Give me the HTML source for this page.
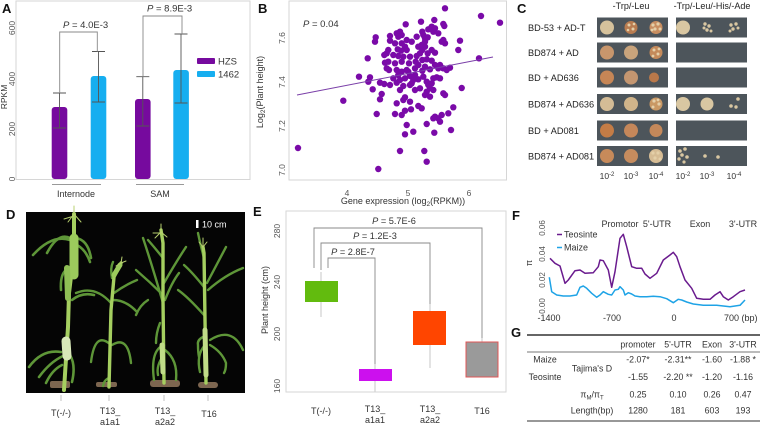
<!DOCTYPE html>
<html><head><meta charset="utf-8"><style>
html,body{margin:0;padding:0;background:#fff;}
svg{display:block;}
text{font-family:"Liberation Sans",Arial,sans-serif;}
</style></head><body>
<svg width="765" height="428" viewBox="0 0 765 428" xmlns="http://www.w3.org/2000/svg">
<rect width="765" height="428" fill="#fff"/>

<!-- ================= PANEL A ================= -->
<text x="2" y="13" font-size="13" font-weight="bold" fill="#111">A</text>
<rect x="16" y="1" width="234" height="178.5" fill="none" stroke="#d6d6d6" stroke-width="1"/>
<g font-size="8.5" fill="#555" text-anchor="middle">
<text transform="translate(15,179) rotate(-90)">0</text>
<text transform="translate(15,129) rotate(-90)">200</text>
<text transform="translate(15,79) rotate(-90)">400</text>
<text transform="translate(15,28) rotate(-90)">600</text>
<text transform="translate(7,97) rotate(-90)" fill="#333">RPKM</text>
</g>
<rect x="51.7" y="107" width="15.6" height="72" rx="3" fill="#760a9e"/>
<rect x="90.7" y="76" width="15.6" height="103" rx="3" fill="#16aef0"/>
<rect x="135" y="99" width="15.6" height="80" rx="3" fill="#760a9e"/>
<rect x="173.3" y="70" width="15.6" height="109" rx="3" fill="#16aef0"/>
<g stroke="#555" stroke-width="0.9" fill="none">
<path d="M59.5,93 V128 M53,93 H66 M53,128 H66"/>
<path d="M98.5,51.5 V102 M92,51.5 H105 M92,102 H105"/>
<path d="M142.8,76.7 V126 M136.3,76.7 H149.3 M136.3,126 H149.3"/>
<path d="M181,34 V103 M174.5,34 H187.5 M174.5,103 H187.5"/>
</g>
<g stroke="#888" stroke-width="0.9" fill="none">
<path d="M59.7,93 V32 H97.3 V51.5"/>
<path d="M143,76.7 V16 H182 V34"/>
</g>
<text x="63" y="28" font-size="9.5" fill="#333"><tspan font-style="italic">P</tspan> = 4.0E-3</text>
<text x="147" y="11.5" font-size="9.5" fill="#333"><tspan font-style="italic">P</tspan> = 8.9E-3</text>
<rect x="197" y="58" width="18" height="6" rx="1" fill="#760a9e"/>
<text x="218" y="64.5" font-size="9.5" fill="#333">HZS</text>
<rect x="197" y="71" width="18" height="6" rx="1" fill="#16aef0"/>
<text x="218" y="77.5" font-size="9.5" fill="#333">1462</text>
<g stroke="#999" stroke-width="0.9"><path d="M52,184.5 H101 M136,184.5 H184"/></g>
<text x="76" y="197" font-size="9" fill="#333" text-anchor="middle">Internode</text>
<text x="160" y="197" font-size="9" fill="#333" text-anchor="middle">SAM</text>

<!-- ================= PANEL B ================= -->
<text x="258" y="13" font-size="13" font-weight="bold" fill="#111">B</text>
<rect x="289" y="1" width="217.5" height="179" fill="none" stroke="#d6d6d6" stroke-width="1"/>
<g font-size="8.5" fill="#555" text-anchor="middle">
<text transform="translate(285,170) rotate(-90)">7.0</text>
<text transform="translate(285,126) rotate(-90)">7.2</text>
<text transform="translate(285,82) rotate(-90)">7.4</text>
<text transform="translate(285,38) rotate(-90)">7.6</text>
<text x="347" y="196">4</text>
<text x="408" y="196">5</text>
<text x="469" y="196">6</text>
</g>
<text transform="translate(263,92) rotate(-90)" font-size="9" fill="#333" text-anchor="middle">Log<tspan font-size="6.5" dy="2">2</tspan><tspan dy="-2">(Plant height)</tspan></text>
<text x="403" y="204" font-size="9" fill="#333" text-anchor="middle">Gene expression (log<tspan font-size="6.5" dy="2">2</tspan><tspan dy="-2">(RPKM))</tspan></text>
<text x="303" y="27" font-size="9.5" fill="#333"><tspan font-style="italic">P</tspan> = 0.04</text>
<g fill="#7a0aa8">
<circle cx="445" cy="8.3" r="3.2"/><circle cx="481" cy="16" r="3.2"/><circle cx="500" cy="22.7" r="3.2"/><circle cx="434.3" cy="20" r="3.2"/><circle cx="443.3" cy="24" r="3.2"/><circle cx="444.3" cy="26" r="3.2"/><circle cx="405.7" cy="24.3" r="3.2"/><circle cx="421" cy="21.7" r="3.2"/><circle cx="431.7" cy="26.7" r="3.2"/><circle cx="428.3" cy="29.3" r="3.2"/><circle cx="435" cy="28.3" r="3.2"/><circle cx="433.3" cy="31.7" r="3.2"/><circle cx="438.3" cy="33.3" r="3.2"/><circle cx="422.3" cy="31.7" r="3.2"/><circle cx="423.3" cy="35" r="3.2"/><circle cx="425" cy="38.3" r="3.2"/><circle cx="427.7" cy="37.3" r="3.2"/><circle cx="375.7" cy="37.3" r="3.2"/><circle cx="375" cy="41.7" r="3.2"/><circle cx="390" cy="36" r="3.2"/><circle cx="390" cy="40.7" r="3.2"/><circle cx="396.7" cy="33.3" r="3.2"/><circle cx="400" cy="31.7" r="3.2"/><circle cx="401.7" cy="35" r="3.2"/><circle cx="398.3" cy="36.7" r="3.2"/><circle cx="441.7" cy="41.7" r="3.2"/><circle cx="445" cy="43.3" r="3.2"/><circle cx="443.3" cy="40" r="3.2"/><circle cx="460" cy="40.7" r="3.2"/><circle cx="458.3" cy="50" r="3.2"/><circle cx="479" cy="58.3" r="3.2"/><circle cx="411.7" cy="41.7" r="3.2"/><circle cx="405" cy="46.7" r="3.2"/><circle cx="406.7" cy="50" r="3.2"/><circle cx="401" cy="50.7" r="3.2"/><circle cx="397.7" cy="49.3" r="3.2"/><circle cx="388.3" cy="50" r="3.2"/><circle cx="386.7" cy="53.3" r="3.2"/><circle cx="384.3" cy="55" r="3.2"/><circle cx="393.3" cy="55" r="3.2"/><circle cx="398.3" cy="56" r="3.2"/><circle cx="403.3" cy="56.7" r="3.2"/><circle cx="410" cy="56.7" r="3.2"/><circle cx="416.7" cy="56" r="3.2"/><circle cx="422.3" cy="50" r="3.2"/><circle cx="425" cy="46.7" r="3.2"/><circle cx="421.7" cy="45" r="3.2"/><circle cx="418.3" cy="46.7" r="3.2"/><circle cx="420" cy="53.3" r="3.2"/><circle cx="427.7" cy="53.3" r="3.2"/><circle cx="431.7" cy="50" r="3.2"/><circle cx="435" cy="52.7" r="3.2"/><circle cx="367.7" cy="58.3" r="3.2"/><circle cx="385" cy="62.7" r="3.2"/><circle cx="388.3" cy="61.7" r="3.2"/><circle cx="395" cy="63.3" r="3.2"/><circle cx="401.7" cy="61.7" r="3.2"/><circle cx="409" cy="63.3" r="3.2"/><circle cx="415.7" cy="61.7" r="3.2"/><circle cx="422.3" cy="60" r="3.2"/><circle cx="426.7" cy="59.3" r="3.2"/><circle cx="431.7" cy="60.7" r="3.2"/><circle cx="435" cy="65" r="3.2"/><circle cx="440" cy="65" r="3.2"/><circle cx="443.3" cy="68.3" r="3.2"/><circle cx="446.7" cy="70" r="3.2"/><circle cx="450" cy="67.7" r="3.2"/><circle cx="386.7" cy="68.3" r="3.2"/><circle cx="389" cy="70" r="3.2"/><circle cx="396.7" cy="70" r="3.2"/><circle cx="401.7" cy="71.7" r="3.2"/><circle cx="406.7" cy="70" r="3.2"/><circle cx="415" cy="68.3" r="3.2"/><circle cx="422.3" cy="70.7" r="3.2"/><circle cx="430" cy="69.3" r="3.2"/><circle cx="438.3" cy="68.3" r="3.2"/><circle cx="436.7" cy="77.3" r="3.2"/><circle cx="433.3" cy="78.3" r="3.2"/><circle cx="440" cy="78.3" r="3.2"/><circle cx="359" cy="76.7" r="3.2"/><circle cx="370" cy="77.3" r="3.2"/><circle cx="368.3" cy="81.7" r="3.2"/><circle cx="380" cy="82.7" r="3.2"/><circle cx="384.3" cy="84" r="3.2"/><circle cx="390" cy="85" r="3.2"/><circle cx="396.7" cy="82.7" r="3.2"/><circle cx="400" cy="80" r="3.2"/><circle cx="405" cy="78.3" r="3.2"/><circle cx="410" cy="76" r="3.2"/><circle cx="413.3" cy="80" r="3.2"/><circle cx="418.3" cy="79.3" r="3.2"/><circle cx="423.3" cy="76.7" r="3.2"/><circle cx="426.7" cy="81.7" r="3.2"/><circle cx="431.7" cy="83.3" r="3.2"/><circle cx="430" cy="88.3" r="3.2"/><circle cx="426.7" cy="91.7" r="3.2"/><circle cx="420" cy="88.3" r="3.2"/><circle cx="415" cy="90" r="3.2"/><circle cx="410" cy="85" r="3.2"/><circle cx="403.3" cy="86" r="3.2"/><circle cx="400" cy="90" r="3.2"/><circle cx="372.7" cy="89.3" r="3.2"/><circle cx="381.7" cy="94" r="3.2"/><circle cx="380" cy="99.3" r="3.2"/><circle cx="405" cy="97.3" r="3.2"/><circle cx="403.3" cy="100" r="3.2"/><circle cx="410" cy="101.7" r="3.2"/><circle cx="418.3" cy="106" r="3.2"/><circle cx="421.7" cy="108.3" r="3.2"/><circle cx="411" cy="109.3" r="3.2"/><circle cx="405" cy="110.7" r="3.2"/><circle cx="401.7" cy="115" r="3.2"/><circle cx="396.7" cy="103.3" r="3.2"/><circle cx="395" cy="114" r="3.2"/><circle cx="376.7" cy="114" r="3.2"/><circle cx="343.3" cy="100.7" r="3.2"/><circle cx="443.3" cy="93.3" r="3.2"/><circle cx="445" cy="95" r="3.2"/><circle cx="461.7" cy="88" r="3.2"/><circle cx="453.3" cy="107.3" r="3.2"/><circle cx="448.3" cy="113.3" r="3.2"/><circle cx="441.7" cy="115" r="3.2"/><circle cx="438.3" cy="118.3" r="3.2"/><circle cx="435" cy="116.7" r="3.2"/><circle cx="440" cy="121.7" r="3.2"/><circle cx="433.3" cy="118.3" r="3.2"/><circle cx="426.7" cy="124" r="3.2"/><circle cx="406.7" cy="125" r="3.2"/><circle cx="413.3" cy="131.7" r="3.2"/><circle cx="405" cy="134.3" r="3.2"/><circle cx="434.3" cy="132.7" r="3.2"/><circle cx="451" cy="130" r="3.2"/><circle cx="400" cy="151" r="3.2"/><circle cx="424.3" cy="151" r="3.2"/><circle cx="426.7" cy="161.7" r="3.2"/><circle cx="378.3" cy="169" r="3.2"/><circle cx="298" cy="148" r="3.2"/>
<circle cx="428.3" cy="85" r="3.2"/><circle cx="433.3" cy="90" r="3.2"/><circle cx="430" cy="96.7" r="3.2"/><circle cx="425" cy="95" r="3.2"/><circle cx="411.7" cy="83.3" r="3.2"/><circle cx="415" cy="75" r="3.2"/><circle cx="408.3" cy="71.7" r="3.2"/><circle cx="398.3" cy="75" r="3.2"/><circle cx="393.3" cy="78.3" r="3.2"/><circle cx="418.3" cy="65" r="3.2"/><circle cx="425" cy="66.7" r="3.2"/><circle cx="401.7" cy="43.3" r="3.2"/><circle cx="406.7" cy="40" r="3.2"/><circle cx="416.7" cy="36.7" r="3.2"/><circle cx="425" cy="41.7" r="3.2"/><circle cx="395" cy="43.3" r="3.2"/>
</g>
<line x1="297" y1="95" x2="493" y2="57" stroke="#7a3fa8" stroke-width="1"/>

<!-- ================= PANEL C ================= -->
<text x="517" y="13" font-size="13" font-weight="bold" fill="#111">C</text>
<text x="631" y="9" font-size="9" fill="#222" text-anchor="middle">-Trp/-Leu</text>
<text x="712" y="9" font-size="9" fill="#222" text-anchor="middle">-Trp/-Leu/-His/-Ade</text>
<g font-size="9.2" fill="#222">
<text x="528" y="31">BD-53  + AD-T</text>
<text x="528" y="56">BD874 + AD</text>
<text x="528" y="81">BD + AD636</text>
<text x="528" y="107.5">BD874 + AD636</text>
<text x="528" y="134">BD + AD081</text>
<text x="528" y="159.5">BD874 + AD081</text>
</g>
<g fill="#4d555b">
<rect x="597" y="17.5" width="71" height="20"/><rect x="676" y="17.5" width="71" height="20"/>
<rect x="597" y="42.5" width="71" height="20"/><rect x="676" y="42.5" width="71" height="20"/>
<rect x="597" y="67.5" width="71" height="20"/><rect x="676" y="67.5" width="71" height="20"/>
<rect x="597" y="94" width="71" height="20"/><rect x="676" y="94" width="71" height="20"/>
<rect x="597" y="120.5" width="71" height="20"/><rect x="676" y="120.5" width="71" height="20"/>
<rect x="597" y="146" width="71" height="20"/><rect x="676" y="146" width="71" height="20"/>
</g>
<g>
<circle cx="607" cy="27.5" r="7" fill="#d6c29c"/><circle cx="631" cy="27.5" r="6.5" fill="#b97c50"/><circle cx="656" cy="27.5" r="6.5" fill="#c88e60"/>
<circle cx="607" cy="52.5" r="7" fill="#c8966c"/><circle cx="631" cy="52.5" r="7" fill="#c9a47c"/><circle cx="656" cy="52.5" r="6.5" fill="#c48a5a"/>
<circle cx="607" cy="77.5" r="7" fill="#c68656"/><circle cx="631" cy="77.5" r="7" fill="#c49670"/><circle cx="654" cy="77.5" r="5" fill="#b9784a"/>
<circle cx="607" cy="104" r="7" fill="#d4bc96"/><circle cx="631" cy="104" r="7" fill="#d0b48a"/><circle cx="656" cy="104" r="6.5" fill="#c99864"/>
<circle cx="607" cy="130.5" r="7" fill="#c47c46"/><circle cx="631" cy="130.5" r="7" fill="#c5875a"/><circle cx="656" cy="130.5" r="6.5" fill="#c4885a"/>
<circle cx="607" cy="156" r="7" fill="#c78a5a"/><circle cx="631" cy="156" r="7" fill="#c68c5e"/><circle cx="656" cy="156" r="7" fill="#d6bc94"/>
</g>
<g fill="#e4cfa8">
<circle cx="629" cy="25" r="1.5"/><circle cx="633" cy="29" r="1.5"/><circle cx="628" cy="30" r="1.3"/><circle cx="634" cy="24" r="1.3"/>
<circle cx="653" cy="25" r="1.6"/><circle cx="658" cy="24" r="1.6"/><circle cx="655" cy="29" r="1.6"/><circle cx="660" cy="29" r="1.5"/><circle cx="652" cy="30" r="1.4"/>
<circle cx="654" cy="50" r="1.5"/><circle cx="658" cy="54" r="1.5"/><circle cx="653" cy="56" r="1.4"/><circle cx="659" cy="49" r="1.4"/>
<circle cx="654" cy="101" r="1.6"/><circle cx="659" cy="104" r="1.6"/><circle cx="653" cy="107" r="1.5"/><circle cx="658" cy="100" r="1.4"/>
<circle cx="653" cy="153" r="1.6"/><circle cx="658" cy="153" r="1.6"/><circle cx="655" cy="158" r="1.6"/><circle cx="660" cy="159" r="1.5"/>
</g>
<g fill="#d9c7a2">
<circle cx="683" cy="27.5" r="7"/>
<circle cx="705" cy="24" r="1.7"/><circle cx="709" cy="26" r="1.7"/><circle cx="707" cy="30" r="1.7"/><circle cx="711" cy="31" r="1.5"/><circle cx="704" cy="28" r="1.5"/>
<circle cx="731" cy="25" r="1.7"/><circle cx="736" cy="24" r="1.7"/><circle cx="733" cy="29" r="1.7"/><circle cx="738" cy="28" r="1.5"/><circle cx="730" cy="31" r="1.5"/>
<circle cx="683" cy="104" r="7"/><circle cx="707" cy="104" r="6.5"/>
<circle cx="738" cy="99" r="1.8"/><circle cx="731" cy="106" r="1.8"/><circle cx="736" cy="107" r="1.7"/>
<circle cx="680" cy="151" r="1.8"/><circle cx="685" cy="149" r="1.8"/><circle cx="682" cy="155" r="1.8"/><circle cx="687" cy="157" r="1.8"/><circle cx="679" cy="159" r="1.7"/><circle cx="684" cy="162" r="1.6"/>
<circle cx="705" cy="156" r="1.8"/><circle cx="718" cy="157" r="1.8"/>
</g>
<g font-size="8.5" fill="#333" text-anchor="middle">
<text x="607" y="179">10<tspan font-size="6" dy="-3">-2</tspan></text>
<text x="631" y="179">10<tspan font-size="6" dy="-3">-3</tspan></text>
<text x="656" y="179">10<tspan font-size="6" dy="-3">-4</tspan></text>
<text x="683" y="179">10<tspan font-size="6" dy="-3">-2</tspan></text>
<text x="707" y="179">10<tspan font-size="6" dy="-3">-3</tspan></text>
<text x="734" y="179">10<tspan font-size="6" dy="-3">-4</tspan></text>
</g>

<!-- ================= PANEL D ================= -->
<text x="6" y="219" font-size="13" font-weight="bold" fill="#111">D</text>
<rect x="26" y="212" width="219" height="181" fill="#050505"/>
<rect x="196" y="220" width="2.5" height="8" fill="#fff"/>
<text x="202" y="227.5" font-size="9" fill="#fff">10 cm</text>
<g fill="#7d6650">
<rect x="50" y="381" width="20" height="7" rx="2"/>
<rect x="96" y="382" width="21" height="5" rx="2"/>
<rect x="150" y="380" width="30" height="7" rx="3"/>
<rect x="198" y="382" width="20" height="6" rx="3"/>
</g>
<!-- plant 1 -->
<g fill="none" stroke-linecap="round" stroke-linejoin="round">
<g stroke="#5e9638" stroke-width="2.6">
<path d="M70,240 Q52,234 33,255"/>
<path d="M70,238 Q58,232 47,253"/>
<path d="M76,238 Q88,240 91,258"/>
<path d="M77,245 Q86,250 90,262"/>
<path d="M72,300 Q82,292 94,295"/>
<path d="M61,352 Q42,349 29,367"/>
<path d="M63,356 Q50,362 39,377"/>
<path d="M62,365 Q52,370 46,383"/>
<path d="M70,355 Q76,365 72,382"/>
<path d="M66,270 Q60,275 61,290"/>
</g>
<path d="M64,390 L68,327 L69,293 L73,260 L74,237 L74,214" stroke="#a5cf60" stroke-width="4"/>
<path d="M74,238 L74,275" stroke="#9ccb5c" stroke-width="9"/>
<path d="M67,268 L68,298" stroke="#8fbf55" stroke-width="6"/>
<path d="M66,341 L67,356" stroke="#d8e8b8" stroke-width="9"/>
<g stroke="#b8d070" stroke-width="1"><path d="M74,214 L68,222 M74,214 L81,222 M74,214 L74,206 M74,216 L64,219"/></g>
</g>
<!-- plant 2 -->
<g fill="none" stroke-linecap="round" stroke-linejoin="round">
<g stroke="#5e9638" stroke-width="2.4">
<path d="M114,293 Q125,285 137,280"/>
<path d="M113,300 Q126,300 137,312"/>
<path d="M111,303 Q95,285 76,293"/>
<path d="M111,345 Q95,330 91,362"/>
<path d="M112,345 Q128,335 131,363"/>
<path d="M112,278 Q110,268 113,262"/>
<path d="M109,378 Q104,380 103,386"/>
</g>
<path d="M109,387 L111,310 L114,277 L121,263" stroke="#a5cf60" stroke-width="3.4"/>
<path d="M114,275 L120,265" stroke="#9ccb5c" stroke-width="5"/>
<g stroke="#b8d070" stroke-width="1"><path d="M121,263 L116,266 M121,263 L126,261 M121,263 L122,257"/></g>
</g>
<!-- plant 3 -->
<g fill="none" stroke-linecap="round" stroke-linejoin="round">
<g stroke="#5e9638" stroke-width="2.4">
<path d="M163,303 Q152,265 143,238"/>
<path d="M163,295 Q150,282 136,270"/>
<path d="M164,283 Q176,262 186,247"/>
<path d="M165,300 Q172,282 179,273"/>
<path d="M163,258 Q155,248 148,240"/>
<path d="M160,323 Q156,333 156,343"/>
<path d="M164,345 Q150,350 154,380"/>
<path d="M165,350 Q178,360 176,380"/>
<path d="M164,355 Q156,365 158,375"/>
<path d="M148,300 Q140,305 136,315"/>
</g>
<path d="M164,383 L163,300 L163,243 L161,230" stroke="#a5cf60" stroke-width="3.4"/>
<path d="M162,345 L163,372" stroke="#c0dc88" stroke-width="5"/>
<g stroke="#b8d070" stroke-width="1"><path d="M161,232 L155,238 M161,232 L167,237 M161,232 L161,224 M161,233 L153,233"/></g>
</g>
<!-- plant 4 -->
<g fill="none" stroke-linecap="round" stroke-linejoin="round">
<g stroke="#5e9638" stroke-width="2.4">
<path d="M207,283 Q218,262 226,247"/>
<path d="M208,290 Q225,275 243,268"/>
<path d="M204,287 Q192,272 184,265"/>
<path d="M204,315 Q188,297 178,290"/>
<path d="M204,258 Q200,243 198,233"/>
<path d="M210,340 Q232,326 243,350"/>
<path d="M210,345 Q222,352 226,363 Q226,370 224,373"/>
<path d="M203,337 Q197,340 198,345 Q198,352 199,357"/>
<path d="M205,345 Q196,355 200,372"/>
</g>
<path d="M206,383 L205,320 L204,253 L203,247" stroke="#a5cf60" stroke-width="3.4"/>
<path d="M205,330 L206,375" stroke="#c0dc88" stroke-width="5"/>
<g stroke="#b8d070" stroke-width="1"><path d="M203,247 L199,242 M203,247 L207,242 M203,246 L203,238"/></g>
</g>
<g stroke="#bbb" stroke-width="0.9"><path d="M61,395 V401 M109,395 V401 M164,395 V401 M208,395 V401"/></g>
<g font-size="9" fill="#333" text-anchor="middle">
<text x="61" y="416">T(-/-)</text>
<text x="110" y="414">T13_</text><text x="110" y="425">a1a1</text>
<text x="165" y="414">T13_</text><text x="165" y="425">a2a2</text>
<text x="209" y="417">T16</text>
</g>

<!-- ================= PANEL E ================= -->
<text x="253" y="216" font-size="13" font-weight="bold" fill="#111">E</text>
<rect x="286" y="211" width="220" height="181" fill="none" stroke="#d6d6d6" stroke-width="1"/>
<g font-size="8.5" fill="#555" text-anchor="middle">
<text transform="translate(280,231) rotate(-90)">280</text>
<text transform="translate(280,282) rotate(-90)">240</text>
<text transform="translate(280,334) rotate(-90)">200</text>
<text transform="translate(280,386) rotate(-90)">160</text>
</g>
<text transform="translate(268,300) rotate(-90)" font-size="9" fill="#333" text-anchor="middle">Plant height (cm)</text>
<g stroke="#d0d0d0" stroke-width="1.2">
<path d="M321,272 V317"/>
<path d="M375,364 V392"/>
<path d="M430,304 V368"/>
<path d="M482,338 V377"/>
</g>
<rect x="305" y="281" width="33" height="21" fill="#62bb0e"/>
<rect x="359" y="369" width="33" height="12" fill="#cc10ee"/>
<rect x="413" y="311" width="33" height="34" fill="#ff4500"/>
<rect x="466" y="342" width="32" height="35" fill="#9a9a9a" stroke="#e05555" stroke-width="1"/>
<g stroke="#888" stroke-width="0.9" fill="none">
<path d="M314,268 V228 H482 V338"/>
<path d="M321,270 V243 H430 V304"/>
<path d="M328,268 V258 H375 V364"/>
</g>
<g font-size="9.2" fill="#333" text-anchor="middle">
<text x="394" y="224"><tspan font-style="italic">P</tspan> = 5.7E-6</text>
<text x="375" y="239"><tspan font-style="italic">P</tspan> = 1.2E-3</text>
<text x="353" y="255"><tspan font-style="italic">P</tspan> = 2.8E-7</text>
</g>
<g font-size="9" fill="#333" text-anchor="middle">
<text x="321" y="414">T(-/-)</text>
<text x="375" y="412">T13_</text><text x="375" y="423">a1a1</text>
<text x="430" y="412">T13_</text><text x="430" y="423">a2a2</text>
<text x="482" y="414">T16</text>
</g>

<!-- ================= PANEL F ================= -->
<text x="512" y="220" font-size="13" font-weight="bold" fill="#111">F</text>
<g font-size="8" fill="#555" text-anchor="middle">
<text transform="translate(545,306) rotate(-90)">0.00</text>
<text transform="translate(545,280) rotate(-90)">0.02</text>
<text transform="translate(545,254) rotate(-90)">0.04</text>
<text transform="translate(545,228) rotate(-90)">0.06</text>
</g>
<text transform="translate(532,263) rotate(-90)" font-size="9" fill="#333" text-anchor="middle">π</text>
<g font-size="9" fill="#333">
<text x="549" y="321" text-anchor="middle">-1400</text>
<text x="612" y="321" text-anchor="middle">-700</text>
<text x="674" y="321" text-anchor="middle">0</text>
<text x="724" y="321">700 (bp)</text>
<text x="620" y="227" text-anchor="middle">Promotor</text>
<text x="657" y="227" text-anchor="middle">5'-UTR</text>
<text x="700" y="227" text-anchor="middle">Exon</text>
<text x="743" y="227" text-anchor="middle">3'-UTR</text>
<text x="564" y="237.5">Teosinte</text>
<text x="564" y="250.5">Maize</text>
</g>
<line x1="557" y1="234.5" x2="562" y2="234.5" stroke="#6a1b8e" stroke-width="1.5"/>
<line x1="557" y1="247.5" x2="562" y2="247.5" stroke="#1ea3e6" stroke-width="1.5"/>
<polyline fill="none" stroke="#6a1b8e" stroke-width="1.5" stroke-linejoin="round" points="550,258.3 555,263.3 560,266 565,283.3 568.3,280 575,270.7 580,270 585,273.3 593.3,272.7 598.3,266.7 600,260 603.3,260.7 608.3,270 611.7,287.3 615,271.7 620,238.3 623.3,234.3 626.7,246.7 631.7,266.7 636.7,268.3 641.7,268.3 645,274 650,278.3 656.7,273.3 663.3,260 670,255 673.3,252.3 676.7,256.7 680,266.7 685,280 691.7,288.3 696.7,298.3 703.3,299.3 710,299.3 715,295 720,291.7 723.3,296.7 728.3,300 733.3,296.7 740,291.7 745,290"/>
<polyline fill="none" stroke="#1ea3e6" stroke-width="1.5" stroke-linejoin="round" points="549.3,277.3 551.7,291.7 556.7,295 563.3,296 570,296 576.7,295 580,287.3 583.3,286 586.7,288.3 591.7,293.3 596.7,297.3 600,295 603.3,291.7 608.3,294.3 611.7,295 615,290 618.3,289.3 620,286.7 623.3,290 625,295 628.3,292.7 631.7,294 635,296 640,296.7 646.7,296.7 653.3,296.3 660,296.7 666.7,298.7 673.3,302.7 678.3,299.3 681.7,300 686.7,302 693.3,304 703.3,305.3 716.7,305.3 723.3,306 730,306.7 740,305.3 745,300"/>

<!-- ================= PANEL G ================= -->
<text x="511" y="337" font-size="13" font-weight="bold" fill="#111">G</text>
<line x1="527" y1="335" x2="760" y2="335" stroke="#333" stroke-width="1.5"/>
<line x1="527" y1="352" x2="760" y2="352" stroke="#777" stroke-width="1"/>
<line x1="527" y1="421" x2="760" y2="421" stroke="#777" stroke-width="1.5"/>
<g font-size="8.8" fill="#333" text-anchor="middle">
<text x="638" y="347.5">promoter</text>
<text x="678" y="347.5">5'-UTR</text>
<text x="712" y="347.5">Exon</text>
<text x="743" y="347.5">3'-UTR</text>
<text x="545" y="362.5">Maize</text>
<text x="545" y="380">Teosinte</text>
<text x="592" y="371.5">Tajima's D</text>
<text x="638" y="362.5">-2.07*</text>
<text x="678" y="362.5">-2.31**</text>
<text x="712" y="362.5">-1.60</text>
<text x="743" y="362.5">-1.88 *</text>
<text x="638" y="380">-1.55</text>
<text x="678" y="380">-2.20 **</text>
<text x="712" y="380">-1.20</text>
<text x="743" y="380">-1.16</text>
<text x="592" y="397.5">π<tspan font-size="6" dy="2">M</tspan><tspan dy="-2">/π</tspan><tspan font-size="6" dy="2">T</tspan></text>
<text x="638" y="397.5">0.25</text>
<text x="678" y="397.5">0.10</text>
<text x="712" y="397.5">0.26</text>
<text x="743" y="397.5">0.47</text>
<text x="592" y="413.5">Length(bp)</text>
<text x="638" y="413.5">1280</text>
<text x="678" y="413.5">181</text>
<text x="712" y="413.5">603</text>
<text x="743" y="413.5">193</text>
</g>
</svg>
</body></html>
